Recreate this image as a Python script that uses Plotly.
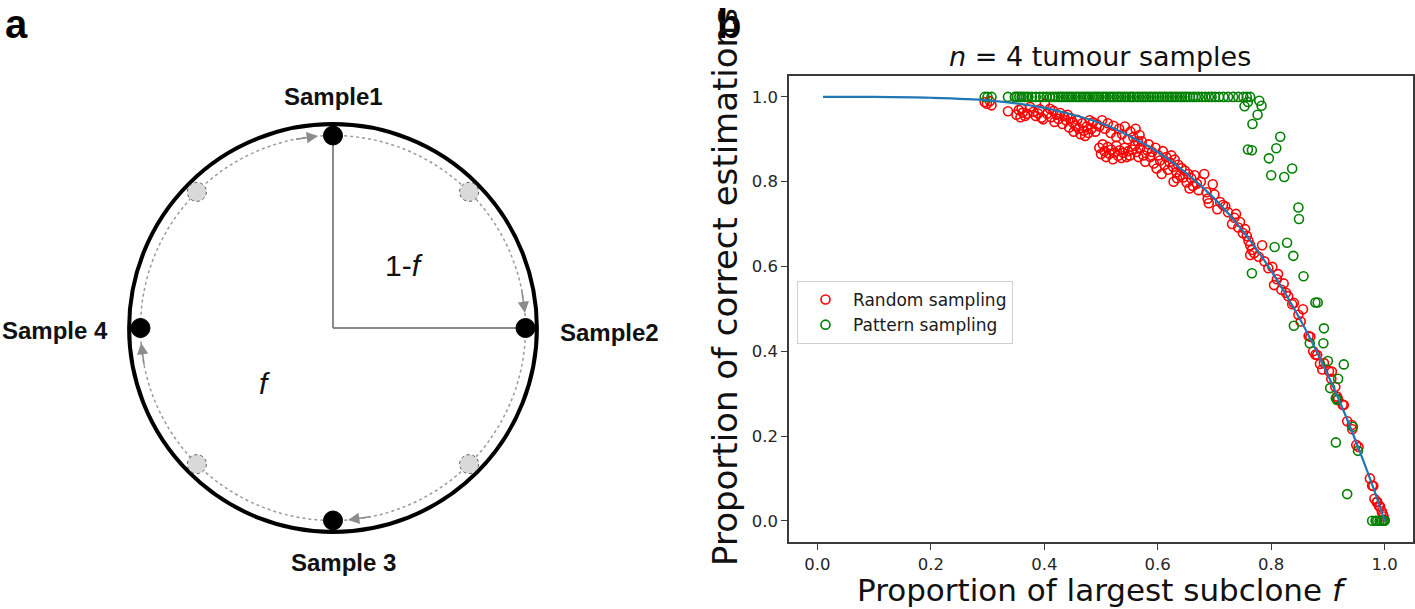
import math
import plotly.graph_objects as go

# ---------------- Panel b data ----------------
curve_x = [0.01, 0.10, 0.20, 0.30, 0.40, 0.50, 0.55, 0.60, 0.65, 0.70, 0.75, 0.80,
           0.85, 0.90, 0.93, 0.96, 0.98, 1.00]
curve_y = [1.000, 1.000, 0.998, 0.992, 0.974, 0.938, 0.908, 0.870, 0.821, 0.760, 0.684, 0.590,
           0.478, 0.344, 0.252, 0.150, 0.078, 0.000]

random_low = [(0.295, 0.988), (0.299, 0.984), (0.304, 0.990), (0.307, 0.980), (0.336, 0.966),
              (0.351, 0.958), (0.355, 0.969), (0.358, 0.952), (0.362, 0.963), (0.366, 0.955),
              (0.360, 0.972), (0.370, 0.960), (0.375, 0.976), (0.381, 0.965), (0.389, 0.961),
              (0.395, 0.951), (0.401, 0.984), (0.392, 0.971), (0.385, 0.955), (0.398, 0.947)]
random_mid1 = [(0.405, 0.960), (0.410, 0.972), (0.412, 0.952), (0.416, 0.967), (0.418, 0.941),
               (0.422, 0.958), (0.425, 0.948), (0.428, 0.962), (0.432, 0.936), (0.435, 0.955),
               (0.438, 0.945), (0.441, 0.958), (0.444, 0.928), (0.447, 0.950), (0.450, 0.940),
               (0.452, 0.918), (0.455, 0.932), (0.458, 0.946), (0.461, 0.925), (0.464, 0.912),
               (0.467, 0.938), (0.470, 0.920), (0.472, 0.908), (0.475, 0.930), (0.478, 0.915),
               (0.480, 0.945), (0.483, 0.925), (0.486, 0.940), (0.490, 0.918), (0.493, 0.935)]
random_cluster = [(0.497, 0.880), (0.500, 0.865), (0.503, 0.888), (0.506, 0.872), (0.509, 0.858),
                  (0.512, 0.882), (0.515, 0.866), (0.518, 0.876), (0.521, 0.853), (0.524, 0.869),
                  (0.527, 0.885), (0.530, 0.861), (0.533, 0.874), (0.536, 0.856), (0.539, 0.868),
                  (0.542, 0.880), (0.545, 0.858), (0.548, 0.872), (0.551, 0.862), (0.555, 0.876)]
random_mid2 = [(0.497, 0.930), (0.502, 0.945), (0.507, 0.925), (0.512, 0.938), (0.517, 0.915),
               (0.522, 0.932), (0.527, 0.905), (0.532, 0.925), (0.537, 0.912), (0.542, 0.930),
               (0.547, 0.900), (0.552, 0.918), (0.557, 0.905), (0.561, 0.925), (0.565, 0.895),
               (0.568, 0.910)]
random_dense = [(0.560, 0.885), (0.563, 0.870), (0.566, 0.858), (0.569, 0.880), (0.572, 0.895),
                (0.575, 0.862), (0.578, 0.847), (0.581, 0.875), (0.584, 0.888), (0.587, 0.858),
                (0.590, 0.870), (0.593, 0.843), (0.596, 0.880), (0.598, 0.831), (0.601, 0.862),
                (0.604, 0.850), (0.607, 0.818), (0.609, 0.872), (0.612, 0.840), (0.615, 0.858),
                (0.618, 0.828), (0.621, 0.846), (0.624, 0.862), (0.627, 0.835), (0.628, 0.800),
                (0.630, 0.852), (0.633, 0.822), (0.634, 0.808), (0.636, 0.840), (0.639, 0.815),
                (0.642, 0.832), (0.645, 0.810), (0.648, 0.826), (0.651, 0.798), (0.654, 0.818),
                (0.656, 0.784), (0.659, 0.808), (0.662, 0.790), (0.665, 0.815), (0.669, 0.795)]
random_upper = [(0.672, 0.780), (0.676, 0.800), (0.682, 0.818), (0.686, 0.775), (0.688, 0.760),
                (0.690, 0.749), (0.697, 0.794), (0.700, 0.770), (0.705, 0.735), (0.710, 0.752),
                (0.715, 0.745), (0.719, 0.742), (0.724, 0.728), (0.731, 0.700), (0.735, 0.715),
                (0.738, 0.724), (0.742, 0.692), (0.745, 0.705), (0.750, 0.679), (0.754, 0.688),
                (0.757, 0.672), (0.760, 0.660)]
random_steep = [(0.763, 0.650), (0.766, 0.639), (0.763, 0.627), (0.770, 0.632), (0.778, 0.623),
                (0.784, 0.650), (0.788, 0.612), (0.795, 0.596), (0.802, 0.599), (0.805, 0.556),
                (0.810, 0.570), (0.812, 0.582), (0.818, 0.545), (0.822, 0.560), (0.826, 0.538),
                (0.830, 0.530), (0.837, 0.511), (0.840, 0.514), (0.848, 0.486), (0.856, 0.499),
                (0.852, 0.470), (0.866, 0.436), (0.869, 0.434), (0.874, 0.400), (0.878, 0.392),
                (0.881, 0.391), (0.886, 0.370), (0.890, 0.357), (0.893, 0.372), (0.902, 0.353),
                (0.906, 0.335), (0.907, 0.352), (0.913, 0.316), (0.916, 0.293), (0.918, 0.287),
                (0.926, 0.274), (0.928, 0.273), (0.934, 0.235), (0.942, 0.226), (0.943, 0.216),
                (0.950, 0.179), (0.954, 0.174), (0.974, 0.100), (0.978, 0.083), (0.980, 0.082),
                (0.982, 0.052), (0.986, 0.044), (0.987, 0.045), (0.990, 0.035), (0.992, 0.034),
                (0.995, 0.022), (0.997, 0.015), (0.998, 0.010), (1.000, 0.002)]

pattern_flat_x = [0.295, 0.300, 0.307, 0.336, 0.348, 0.352, 0.356, 0.360, 0.364, 0.368, 0.372,
                  0.378, 0.385, 0.392, 0.398, 0.404, 0.410, 0.415, 0.420, 0.425, 0.429, 0.433,
                  0.438, 0.442, 0.446, 0.450, 0.455, 0.459, 0.463, 0.468, 0.472, 0.476, 0.480,
                  0.485, 0.489, 0.493, 0.497, 0.502, 0.506, 0.510, 0.515, 0.519, 0.523, 0.528,
                  0.532, 0.536, 0.541, 0.545, 0.550, 0.554, 0.558, 0.563, 0.567, 0.572, 0.576,
                  0.580, 0.585, 0.589, 0.594, 0.598, 0.603, 0.607, 0.612, 0.616, 0.621, 0.625,
                  0.630, 0.634, 0.639, 0.643, 0.648, 0.652, 0.657, 0.662, 0.667, 0.672, 0.678,
                  0.684, 0.690, 0.695, 0.701, 0.708, 0.716, 0.724, 0.733, 0.742, 0.751, 0.757,
                  0.763]
pattern_flat_y = [1.0] * len(pattern_flat_x)
pattern_scatter = [(0.753, 0.978), (0.759, 0.988), (0.779, 0.991), (0.783, 0.979), (0.776, 0.958),
                   (0.767, 0.936), (0.759, 0.876), (0.766, 0.874), (0.816, 0.906), (0.809, 0.879),
                   (0.796, 0.855), (0.800, 0.815), (0.823, 0.811), (0.837, 0.831), (0.848, 0.739),
                   (0.849, 0.712), (0.806, 0.646), (0.828, 0.656), (0.839, 0.625), (0.766, 0.584),
                   (0.857, 0.577), (0.878, 0.515), (0.882, 0.515), (0.840, 0.460), (0.893, 0.454),
                   (0.868, 0.419), (0.892, 0.419), (0.900, 0.377), (0.928, 0.369), (0.918, 0.335),
                   (0.904, 0.313), (0.914, 0.289), (0.916, 0.285), (0.944, 0.222), (0.914, 0.185),
                   (0.953, 0.165), (0.934, 0.063), (0.978, 0.000), (0.984, 0.000), (0.987, 0.000),
                   (0.991, 0.000), (0.995, 0.000), (0.998, 0.000), (1.000, 0.000)]

tick_vals = [0.0, 0.2, 0.4, 0.6, 0.8, 1.0]
tick_text = ["0.0", "0.2", "0.4", "0.6", "0.8", "1.0"]

random_pts = random_low + random_mid1 + random_cluster + random_mid2 + random_dense + random_upper + random_steep
random_x = [p[0] for p in random_pts]
random_y = [p[1] for p in random_pts]
pattern_x = pattern_flat_x + [p[0] for p in pattern_scatter]
pattern_y = pattern_flat_y + [p[1] for p in pattern_scatter]

# ---------------- Panel a schematic geometry (diagram units, radius ~1) ----------------
sample_labels = ["Sample1", "Sample2", "Sample 3", "Sample 4"]
sample_angles = [90, 0, -90, 180]
label_pos = [(0.0, 1.12, "center"), (1.087, -0.024, "left"), (0.053, -1.135, "center"), (-1.075, -0.01, "right")]
ghost_angles = [135, 45, -45, -135]
arrow_tip_angles = [94.5, 4.5, -85.5, 184.5]
R_OUTER = 0.985
R_PATH = 0.93
R_DOT = 0.046

fig = go.Figure()

fig.add_trace(go.Scatter(x=random_x, y=random_y, mode="markers", name="Random sampling",
                         marker=dict(symbol="circle-open", size=9, color="#ff0000",
                                     line=dict(width=1.6, color="#ff0000")),
                         xaxis="x", yaxis="y"))
fig.add_trace(go.Scatter(x=pattern_x, y=pattern_y, mode="markers", name="Pattern sampling",
                         marker=dict(symbol="circle-open", size=9, color="#008000",
                                     line=dict(width=1.6, color="#008000")),
                         xaxis="x", yaxis="y"))
fig.add_trace(go.Scatter(x=curve_x, y=curve_y, mode="lines", showlegend=False,
                         line=dict(color="#1f77b4", width=2.2, shape="spline", smoothing=0.8),
                         xaxis="x", yaxis="y"))

shapes = []
shapes.append(dict(type="circle", xref="x2", yref="y2", x0=-R_OUTER, y0=-R_OUTER, x1=R_OUTER, y1=R_OUTER,
                   line=dict(color="black", width=4), layer="above"))
shapes.append(dict(type="circle", xref="x2", yref="y2", x0=-R_PATH, y0=-R_PATH, x1=R_PATH, y1=R_PATH,
                   line=dict(color="#9a9a9a", width=1.5, dash="3px,3px"), layer="above"))
for ang in (90, 0):
    shapes.append(dict(type="line", xref="x2", yref="y2", x0=0, y0=0,
                       x1=R_PATH * math.cos(math.radians(ang)), y1=R_PATH * math.sin(math.radians(ang)),
                       line=dict(color="#8a8a8a", width=2), layer="above"))
for ang in ghost_angles:
    cx, cy = R_PATH * math.cos(math.radians(ang)), R_PATH * math.sin(math.radians(ang))
    shapes.append(dict(type="circle", xref="x2", yref="y2", x0=cx - R_DOT, y0=cy - R_DOT,
                       x1=cx + R_DOT, y1=cy + R_DOT, fillcolor="#d9d9d9",
                       line=dict(color="#555555", width=1, dash="dot"), layer="above"))
for ang in sample_angles:
    cx, cy = R_PATH * math.cos(math.radians(ang)), R_PATH * math.sin(math.radians(ang))
    shapes.append(dict(type="circle", xref="x2", yref="y2", x0=cx - R_DOT, y0=cy - R_DOT,
                       x1=cx + R_DOT, y1=cy + R_DOT, fillcolor="black",
                       line=dict(color="black", width=1), layer="above"))

annotations = []
SANS = "Liberation Sans, Arial, Helvetica, sans-serif"
DV = "DejaVu Sans, sans-serif"
for (lx, ly, anc), txt in zip(label_pos, sample_labels):
    annotations.append(dict(xref="x2", yref="y2", x=lx, y=ly, text="<b>%s</b>" % txt, showarrow=False,
                            xanchor=anc, yanchor="middle", font=dict(family=SANS, size=24, color="#111111")))
annotations.append(dict(xref="x2", yref="y2", x=0.343, y=0.30, text="1-<i>f</i>", showarrow=False,
                        font=dict(family=SANS, size=30, color="#111111")))
annotations.append(dict(xref="x2", yref="y2", x=-0.333, y=-0.27, text="<i>f</i>", showarrow=False,
                        font=dict(family=SANS, size=30, color="#111111")))
for ang in arrow_tip_angles:
    tx, ty = R_PATH * math.cos(math.radians(ang)), R_PATH * math.sin(math.radians(ang))
    bx, by = R_PATH * math.cos(math.radians(ang + 7)), R_PATH * math.sin(math.radians(ang + 7))
    annotations.append(dict(xref="x2", yref="y2", axref="x2", ayref="y2", x=tx, y=ty, ax=bx, ay=by,
                            text="", showarrow=True, arrowhead=2, arrowsize=1.5, arrowwidth=1.5,
                            arrowcolor="#8c8c8c"))
annotations.append(dict(xref="paper", yref="paper", x=3 / 1415, y=1.0, text="<b>a</b>",
                        showarrow=False, xanchor="left", yanchor="top",
                        font=dict(family=SANS, size=40, color="black")))
annotations.append(dict(xref="paper", yref="paper", x=715 / 1415, y=1.0, text="<b>b</b>",
                        showarrow=False, xanchor="left", yanchor="top",
                        font=dict(family=SANS, size=40, color="black")))
annotations.append(dict(xref="paper", yref="paper", x=1100 / 1415, y=1 - 56 / 609,
                        text="<i>n</i> = 4 tumour samples", showarrow=False, xanchor="center",
                        yanchor="middle", font=dict(family=DV, size=27, color="#111111")))
annotations.append(dict(xref="paper", yref="paper", x=1102 / 1415, y=1 - 590 / 609,
                        text="Proportion of largest subclone <i>f</i>", showarrow=False, xanchor="center",
                        yanchor="middle", font=dict(family=DV, size=31, color="#111111")))
annotations.append(dict(xref="paper", yref="paper", x=725 / 1415, y=1 - 287 / 609,
                        text="Proportion of correct estimations", showarrow=False, textangle=-90,
                        xanchor="center", yanchor="middle", font=dict(family=DV, size=34, color="#111111")))

axis_common = dict(range=[-0.05, 1.05], showline=True, mirror=True, linecolor="#3a3a3a", linewidth=1.5,
                   ticks="outside", ticklen=6, tickwidth=1.2, tickcolor="#3a3a3a",
                   tickvals=tick_vals, ticktext=tick_text, showgrid=False, zeroline=False,
                   tickfont=dict(family=DV, size=16.5, color="#262626"))

fig.update_layout(
    width=1415, height=609, margin=dict(l=0, r=0, t=0, b=0),
    paper_bgcolor="white", plot_bgcolor="white",
    xaxis=dict(domain=[789 / 1415, 1413 / 1415], anchor="y", **axis_common),
    yaxis=dict(domain=[1 - 542 / 609, 1 - 75.7 / 609], anchor="x", **axis_common),
    xaxis2=dict(domain=[0, 680 / 1415], range=[-333 / 207, (680 - 333) / 207], visible=False, anchor="y2"),
    yaxis2=dict(domain=[0, 1], range=[-(609 - 328) / 207, 328 / 207], visible=False, anchor="x2"),
    showlegend=True,
    legend=dict(x=797 / 1415, y=1 - 281 / 609, xanchor="left", yanchor="top",
                bordercolor="#d0d0d0", borderwidth=1, bgcolor="white",
                font=dict(family=DV, size=17, color="#1a1a1a"), itemwidth=45),
    shapes=shapes, annotations=annotations,
)

fig.write_html("out.html", config={"displayModeBar": False},
               post_script="document.body.style.margin='0';document.body.style.overflow='hidden';")
